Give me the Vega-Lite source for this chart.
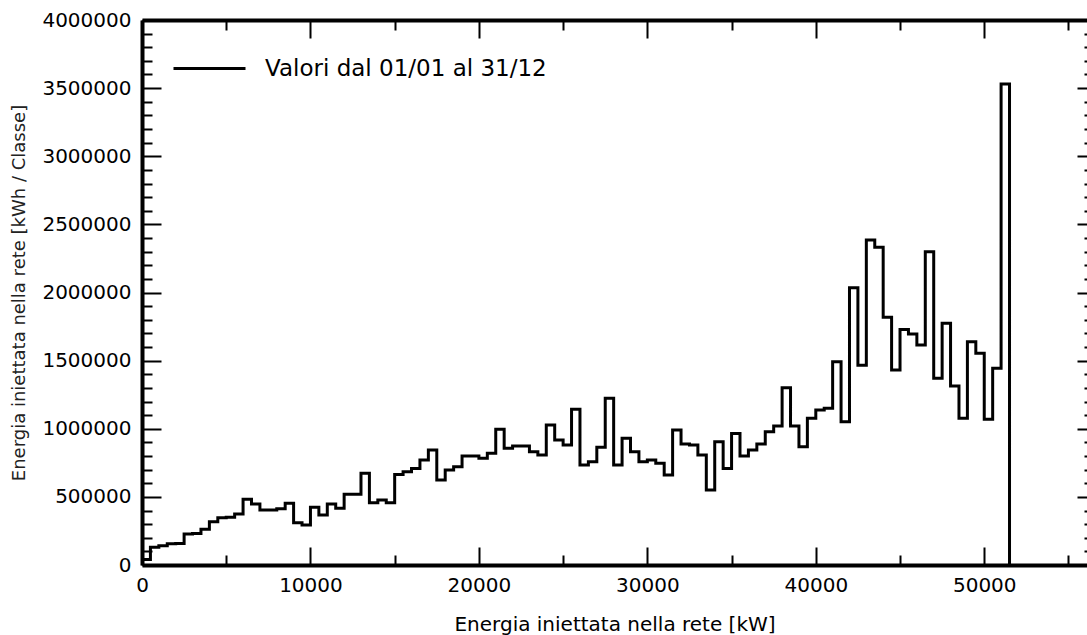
{
  "$schema": "https://vega.github.io/schema/vega-lite/v6.json",
  "width": 945,
  "height": 545,
  "autosize": {"type": "none"},
  "padding": {"left": 142, "top": 20, "right": 0, "bottom": 70},
  "background": "white",
  "config": {
    "view": {"stroke": null},
    "font": "DejaVu Sans",
    "axis": {"domainColor": "black", "domainWidth": 4, "labelColor": "black", "titleColor": "black", "titleFontWeight": "normal", "labelFont": "DejaVu Sans", "titleFont": "DejaVu Sans", "labelOverlap": false, "labelFlush": false, "gridColor": "black", "gridOpacity": 1, "gridWidth": 2}
  },
  "data": {
    "values": [
      {"kW": 0, "kWh": 40000}, {"kW": 500, "kWh": 130000}, {"kW": 1000, "kWh": 142000}, {"kW": 1500, "kWh": 156000},
      {"kW": 2000, "kWh": 158000}, {"kW": 2500, "kWh": 228000}, {"kW": 3000, "kWh": 232000}, {"kW": 3500, "kWh": 262000},
      {"kW": 4000, "kWh": 318000}, {"kW": 4500, "kWh": 347000}, {"kW": 5000, "kWh": 350000}, {"kW": 5500, "kWh": 374000},
      {"kW": 6000, "kWh": 482000}, {"kW": 6500, "kWh": 448000}, {"kW": 7000, "kWh": 404000}, {"kW": 7500, "kWh": 404000},
      {"kW": 8000, "kWh": 413000}, {"kW": 8500, "kWh": 453000}, {"kW": 9000, "kWh": 310000}, {"kW": 9500, "kWh": 294000},
      {"kW": 10000, "kWh": 423000}, {"kW": 10500, "kWh": 367000}, {"kW": 11000, "kWh": 448000}, {"kW": 11500, "kWh": 416000},
      {"kW": 12000, "kWh": 519000}, {"kW": 12500, "kWh": 519000}, {"kW": 13000, "kWh": 673000}, {"kW": 13500, "kWh": 457000},
      {"kW": 14000, "kWh": 477000}, {"kW": 14500, "kWh": 457000}, {"kW": 15000, "kWh": 665000}, {"kW": 15500, "kWh": 685000},
      {"kW": 16000, "kWh": 709000}, {"kW": 16500, "kWh": 771000}, {"kW": 17000, "kWh": 844000}, {"kW": 17500, "kWh": 624000},
      {"kW": 18000, "kWh": 697000}, {"kW": 18500, "kWh": 722000}, {"kW": 19000, "kWh": 800000}, {"kW": 19500, "kWh": 800000},
      {"kW": 20000, "kWh": 783000}, {"kW": 20500, "kWh": 820000}, {"kW": 21000, "kWh": 996000}, {"kW": 21500, "kWh": 856000},
      {"kW": 22000, "kWh": 873000}, {"kW": 22500, "kWh": 873000}, {"kW": 23000, "kWh": 832000}, {"kW": 23500, "kWh": 807000},
      {"kW": 24000, "kWh": 1027000}, {"kW": 24500, "kWh": 917000}, {"kW": 25000, "kWh": 881000}, {"kW": 25500, "kWh": 1143000},
      {"kW": 26000, "kWh": 734000}, {"kW": 26500, "kWh": 758000}, {"kW": 27000, "kWh": 864000}, {"kW": 27500, "kWh": 1223000},
      {"kW": 28000, "kWh": 734000}, {"kW": 28500, "kWh": 930000}, {"kW": 29000, "kWh": 832000}, {"kW": 29500, "kWh": 758000},
      {"kW": 30000, "kWh": 771000}, {"kW": 30500, "kWh": 746000}, {"kW": 31000, "kWh": 660000}, {"kW": 31500, "kWh": 991000},
      {"kW": 32000, "kWh": 888000}, {"kW": 32500, "kWh": 881000}, {"kW": 33000, "kWh": 807000}, {"kW": 33500, "kWh": 550000},
      {"kW": 34000, "kWh": 905000}, {"kW": 34500, "kWh": 709000}, {"kW": 35000, "kWh": 966000}, {"kW": 35500, "kWh": 800000},
      {"kW": 36000, "kWh": 844000}, {"kW": 36500, "kWh": 888000}, {"kW": 37000, "kWh": 978000}, {"kW": 37500, "kWh": 1020000},
      {"kW": 38000, "kWh": 1301000}, {"kW": 38500, "kWh": 1020000}, {"kW": 39000, "kWh": 868000}, {"kW": 39500, "kWh": 1077000},
      {"kW": 40000, "kWh": 1138000}, {"kW": 40500, "kWh": 1150000}, {"kW": 41000, "kWh": 1492000}, {"kW": 41500, "kWh": 1052000},
      {"kW": 42000, "kWh": 2035000}, {"kW": 42500, "kWh": 1466000}, {"kW": 43000, "kWh": 2385000}, {"kW": 43500, "kWh": 2332000},
      {"kW": 44000, "kWh": 1818000}, {"kW": 44500, "kWh": 1431000}, {"kW": 45000, "kWh": 1728000}, {"kW": 45500, "kWh": 1695000},
      {"kW": 46000, "kWh": 1615000}, {"kW": 46500, "kWh": 2300000}, {"kW": 47000, "kWh": 1370000}, {"kW": 47500, "kWh": 1774000},
      {"kW": 48000, "kWh": 1314000}, {"kW": 48500, "kWh": 1077000}, {"kW": 49000, "kWh": 1639000}, {"kW": 49500, "kWh": 1554000},
      {"kW": 50000, "kWh": 1069000}, {"kW": 50500, "kWh": 1444000}, {"kW": 51000, "kWh": 3530000}, {"kW": 51500, "kWh": 0}
    ]
  },
  "layer": [
    {
      "mark": {"type": "line", "interpolate": "step-after", "strokeWidth": 3},
      "encoding": {
        "x": {
          "field": "kW", "type": "quantitative",
          "scale": {"domain": [0, 56100], "nice": false, "zero": false},
          "axis": {
            "orient": "bottom",
            "values": [0, 5000, 10000, 15000, 20000, 25000, 30000, 35000, 40000, 45000, 50000, 55000],
            "format": "d",
            "labelExpr": "datum.value % 10000 === 0 ? datum.label : ''",
            "ticks": false,
            "grid": true,
            "gridDash": {"condition": {"test": "datum.value % 10000 === 0", "value": [18, 509]}, "value": [10, 525]},
            "labelPadding": 10,
            "labelFontSize": 20,
            "title": "Energia iniettata nella rete [kW]",
            "titleFontSize": 20,
            "titlePadding": 19
          }
        },
        "y": {
          "field": "kWh", "type": "quantitative",
          "scale": {"domain": [0, 4000000], "nice": false},
          "axis": {
            "orient": "left",
            "values": [0, 100000, 200000, 300000, 400000, 500000, 600000, 700000, 800000, 900000, 1000000, 1100000, 1200000, 1300000, 1400000, 1500000, 1600000, 1700000, 1800000, 1900000, 2000000, 2100000, 2200000, 2300000, 2400000, 2500000, 2600000, 2700000, 2800000, 2900000, 3000000, 3100000, 3200000, 3300000, 3400000, 3500000, 3600000, 3700000, 3800000, 3900000, 4000000],
            "format": "d",
            "labelExpr": "datum.value % 500000 === 0 ? datum.label : ''",
            "ticks": false,
            "grid": true,
            "gridDash": {"condition": {"test": "datum.value % 500000 === 0", "value": [19, 916, 10]}, "value": [10, 932, 3]},
            "labelPadding": 11,
            "labelFontSize": 20,
            "title": "Energia  iniettata  nella  rete  [kWh  /  Classe]",
            "titleFontSize": 18,
            "titleColor": "#222222",
            "titlePadding": 13
          }
        },
        "color": {
          "datum": "Valori dal 01/01 al 31/12",
          "scale": {"range": ["black"]},
          "legend": {
            "orient": "none", "legendX": 30, "legendY": 11, "title": null,
            "symbolType": "stroke", "symbolSize": 5184, "symbolStrokeWidth": 3, "symbolStrokeColor": "black",
            "labelFontSize": 23, "labelFont": "DejaVu Sans", "labelColor": "black", "labelOffset": 18, "labelLimit": 0, "padding": 0
          }
        }
      }
    },
    {
      "mark": {"type": "line", "opacity": 0},
      "encoding": {
        "x": {
          "field": "kW", "type": "quantitative",
          "axis": {"orient": "top", "labels": false, "ticks": false, "grid": false, "title": null}
        },
        "y": {"field": "kWh", "type": "quantitative", "axis": null}
      }
    }
  ],
  "resolve": {"axis": {"x": "independent", "y": "independent"}}
}
